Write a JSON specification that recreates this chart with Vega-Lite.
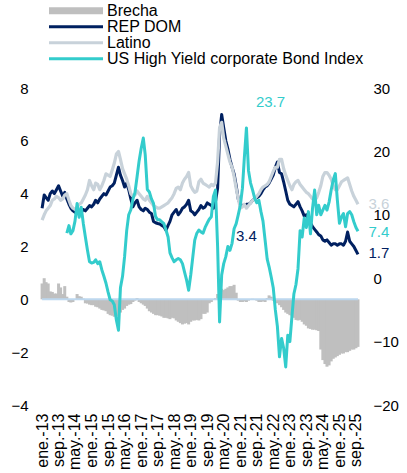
{
 "$schema": "https://vega.github.io/schema/vega-lite/v6.json",
 "width": 318,
 "height": 317,
 "autosize": {"type": "none"},
 "padding": {"left": 41, "top": 88, "right": 48, "bottom": 68},
 "background": "white",
 "config": {
  "font": "Liberation Sans",
  "view": {"stroke": null},
  "axis": {"grid": false, "ticks": false, "domain": false, "labelColor": "black", "labelFont": "Liberation Sans", "labelFontSize": 15}
 },
 "datasets": {
  "main": [
{"d":"2013-01","r":3.45,"l":3.0,"b":0.6},
{"d":"2013-02","r":3.95,"l":3.2,"b":0.8},
{"d":"2013-03","r":3.85,"l":3.35,"b":0.65},
{"d":"2013-04","r":3.75,"l":3.45,"b":0.6},
{"d":"2013-05","r":4.0,"l":3.55,"b":0.3},
{"d":"2013-06","r":4.1,"l":3.75,"b":0.28},
{"d":"2013-07","r":4.0,"l":3.8,"b":0.22},
{"d":"2013-08","r":4.15,"l":3.9,"b":0.22},
{"d":"2013-09","r":4.3,"l":3.85,"b":0.6},
{"d":"2013-10","r":4.1,"l":3.75,"b":0.45},
{"d":"2013-11","r":3.9,"l":3.8,"b":0.2},
{"d":"2013-12","r":4.05,"l":3.95,"b":0.5},
{"d":"2014-01","r":3.8,"l":4.0,"b":0.1,"h":7.1},
{"d":"2014-02","r":3.6,"l":3.75,"b":-0.1,"h":8.3},
{"d":"2014-03","r":3.45,"l":3.55,"b":-0.12,"h":7.0},
{"d":"2014-04","r":3.35,"l":3.45,"b":-0.1,"h":7.5},
{"d":"2014-05","r":3.3,"l":3.4,"b":0.0,"h":9.0},
{"d":"2014-06","r":3.3,"l":3.5,"b":0.2,"h":11.8},
{"d":"2014-07","r":3.35,"l":3.6,"b":0.12,"h":9.6},
{"d":"2014-08","r":3.3,"l":3.65,"b":0.1,"h":11.2},
{"d":"2014-09","r":3.4,"l":3.8,"b":0.03,"h":8.6},
{"d":"2014-10","r":3.35,"l":3.95,"b":-0.15,"h":6.5},
{"d":"2014-11","r":3.45,"l":4.15,"b":-0.16,"h":4.4},
{"d":"2014-12","r":3.55,"l":4.5,"b":-0.2,"h":2.6},
{"d":"2015-01","r":3.5,"l":4.3,"b":-0.22,"h":2.4},
{"d":"2015-02","r":3.6,"l":4.15,"b":-0.22,"h":2.5},
{"d":"2015-03","r":3.75,"l":4.4,"b":-0.28,"h":2.9},
{"d":"2015-04","r":3.65,"l":4.35,"b":-0.3,"h":2.3},
{"d":"2015-05","r":3.8,"l":4.15,"b":-0.35,"h":2.6},
{"d":"2015-06","r":3.9,"l":4.3,"b":-0.4,"h":1.3},
{"d":"2015-07","r":4.0,"l":4.5,"b":-0.42,"h":0.3},
{"d":"2015-08","r":3.95,"l":4.75,"b":-0.45,"h":-0.8},
{"d":"2015-09","r":4.1,"l":4.7,"b":-0.55,"h":-2.2},
{"d":"2015-10","r":4.25,"l":4.65,"b":-0.6,"h":-3.4},
{"d":"2015-11","r":4.3,"l":4.9,"b":-0.62,"h":-3.6},
{"d":"2015-12","r":4.4,"l":5.15,"b":-0.66,"h":-4.2},
{"d":"2016-01","r":4.7,"l":5.5,"b":-0.65,"h":-6.6},
{"d":"2016-02","r":5.0,"l":5.6,"b":-0.6,"h":-8.2},
{"d":"2016-03","r":4.7,"l":5.3,"b":-0.5,"h":-1.5},
{"d":"2016-04","r":4.5,"l":4.95,"b":-0.4,"h":0.3},
{"d":"2016-05","r":4.25,"l":4.75,"b":-0.35,"h":3.4},
{"d":"2016-06","r":4.4,"l":4.55,"b":-0.25,"h":7.5},
{"d":"2016-07","r":4.15,"l":4.3,"b":-0.2,"h":10.0},
{"d":"2016-08","r":3.8,"l":4.0,"b":-0.18,"h":10.8},
{"d":"2016-09","r":3.5,"l":3.9,"b":-0.1,"h":12.5},
{"d":"2016-10","r":3.65,"l":3.95,"b":-0.05,"h":13.5},
{"d":"2016-11","r":3.75,"l":4.1,"b":0.05,"h":16.0},
{"d":"2016-12","r":3.5,"l":4.0,"b":-0.1,"h":18.5},
{"d":"2017-01","r":3.4,"l":3.9,"b":-0.15,"h":20.5},
{"d":"2017-02","r":3.35,"l":3.8,"b":-0.2,"h":22.1},
{"d":"2017-03","r":3.45,"l":3.75,"b":-0.25,"h":19.5},
{"d":"2017-04","r":3.4,"l":3.9,"b":-0.35,"h":14.0},
{"d":"2017-05","r":3.3,"l":3.75,"b":-0.45,"h":13.6},
{"d":"2017-06","r":3.25,"l":3.65,"b":-0.5,"h":12.5},
{"d":"2017-07","r":2.95,"l":3.55,"b":-0.55,"h":11.8},
{"d":"2017-08","r":2.9,"l":3.5,"b":-0.6,"h":9.7},
{"d":"2017-09","r":2.87,"l":3.45,"b":-0.6,"h":9.2},
{"d":"2017-10","r":2.85,"l":3.45,"b":-0.62,"h":9.2},
{"d":"2017-11","r":2.8,"l":3.5,"b":-0.65,"h":8.9},
{"d":"2017-12","r":2.75,"l":3.55,"b":-0.7,"h":8.6},
{"d":"2018-01","r":2.62,"l":3.6,"b":-0.7,"h":7.6},
{"d":"2018-02","r":2.8,"l":3.65,"b":-0.72,"h":6.5},
{"d":"2018-03","r":2.95,"l":3.75,"b":-0.75,"h":4.0},
{"d":"2018-04","r":3.2,"l":3.85,"b":-0.7,"h":3.2},
{"d":"2018-05","r":3.3,"l":4.0,"b":-0.72,"h":2.6},
{"d":"2018-06","r":3.4,"l":4.2,"b":-0.8,"h":2.9},
{"d":"2018-07","r":3.2,"l":4.25,"b":-0.85,"h":3.1},
{"d":"2018-08","r":3.3,"l":4.15,"b":-0.9,"h":2.9},
{"d":"2018-09","r":3.45,"l":4.4,"b":-0.95,"h":2.3},
{"d":"2018-10","r":3.5,"l":4.55,"b":-0.92,"h":1.0},
{"d":"2018-11","r":3.6,"l":4.65,"b":-0.9,"h":-0.3},
{"d":"2018-12","r":3.75,"l":4.8,"b":-0.95,"h":-1.9},
{"d":"2019-01","r":3.35,"l":4.3,"b":-0.85,"h":0.5},
{"d":"2019-02","r":3.3,"l":4.15,"b":-0.8,"h":3.4},
{"d":"2019-03","r":3.2,"l":4.05,"b":-0.8,"h":6.0},
{"d":"2019-04","r":3.3,"l":4.1,"b":-0.78,"h":7.1},
{"d":"2019-05","r":3.4,"l":4.45,"b":-0.8,"h":7.6},
{"d":"2019-06","r":3.55,"l":4.55,"b":-0.75,"h":7.3},
{"d":"2019-07","r":3.45,"l":4.4,"b":-0.55,"h":7.1},
{"d":"2019-08","r":3.5,"l":4.35,"b":-0.55,"h":8.0},
{"d":"2019-09","r":3.65,"l":4.3,"b":-0.5,"h":8.7},
{"d":"2019-10","r":3.6,"l":4.25,"b":-0.15,"h":9.3},
{"d":"2019-11","r":3.55,"l":4.35,"b":-0.1,"h":9.7},
{"d":"2019-12","r":3.45,"l":4.3,"b":0.0,"h":12.9},
{"d":"2020-01","r":3.7,"l":4.4,"b":0.05,"h":13.9},
{"d":"2020-02","r":4.2,"l":5.2,"b":0.2,"h":5.0},
{"d":"2020-03","r":6.2,"l":6.5,"b":0.25,"h":-6.9},
{"d":"2020-04","r":7.0,"l":6.7,"b":0.4,"h":0.5},
{"d":"2020-05","r":6.5,"l":6.1,"b":0.35,"h":2.3},
{"d":"2020-06","r":6.0,"l":5.8,"b":0.4,"h":3.4},
{"d":"2020-07","r":5.7,"l":5.5,"b":0.45,"h":5.0},
{"d":"2020-08","r":5.3,"l":5.2,"b":0.5,"h":4.4},
{"d":"2020-09","r":5.0,"l":5.0,"b":0.5,"h":5.5},
{"d":"2020-10","r":4.75,"l":4.65,"b":0.55,"h":7.8},
{"d":"2020-11","r":4.3,"l":4.2,"b":0.25,"h":8.6},
{"d":"2020-12","r":3.8,"l":3.8,"b":-0.05,"h":10.0},
{"d":"2021-01","r":3.6,"l":3.45,"b":-0.1,"h":11.5},
{"d":"2021-02","r":3.55,"l":3.5,"b":-0.1,"h":14.2},
{"d":"2021-03","r":3.55,"l":3.6,"b":-0.08,"h":19.0},
{"d":"2021-04","r":3.6,"l":3.45,"b":-0.1,"h":23.7},
{"d":"2021-05","r":3.6,"l":3.55,"b":-0.05,"h":17.0},
{"d":"2021-06","r":3.65,"l":3.65,"b":0.0,"h":15.0},
{"d":"2021-07","r":3.75,"l":3.75,"b":0.02,"h":13.9},
{"d":"2021-08","r":3.8,"l":3.8,"b":0.0,"h":12.6},
{"d":"2021-09","r":3.85,"l":3.9,"b":-0.05,"h":11.9},
{"d":"2021-10","r":3.9,"l":4.0,"b":-0.1,"h":12.3},
{"d":"2021-11","r":4.0,"l":4.15,"b":-0.1,"h":10.5},
{"d":"2021-12","r":4.15,"l":4.25,"b":-0.08,"h":9.0},
{"d":"2022-01","r":4.25,"l":4.3,"b":-0.1,"h":6.0},
{"d":"2022-02","r":4.3,"l":4.35,"b":0.05,"h":3.0},
{"d":"2022-03","r":4.4,"l":4.45,"b":0.15,"h":1.8},
{"d":"2022-04","r":4.55,"l":4.65,"b":0.1,"h":0.2},
{"d":"2022-05","r":4.7,"l":4.85,"b":-0.05,"h":-1.5},
{"d":"2022-06","r":5.0,"l":5.0,"b":-0.1,"h":-5.0},
{"d":"2022-07","r":5.2,"l":5.0,"b":-0.15,"h":-7.6},
{"d":"2022-08","r":4.8,"l":5.3,"b":-0.22,"h":-12.4},
{"d":"2022-09","r":4.75,"l":5.3,"b":-0.3,"h":-9.5},
{"d":"2022-10","r":4.45,"l":4.95,"b":-0.4,"h":-11.0},
{"d":"2022-11","r":4.1,"l":4.7,"b":-0.5,"h":-14.0},
{"d":"2022-12","r":3.75,"l":4.5,"b":-0.55,"h":-9.0},
{"d":"2023-01","r":3.6,"l":4.3,"b":-0.6,"h":-10.0},
{"d":"2023-02","r":3.55,"l":4.15,"b":-0.65,"h":-6.0},
{"d":"2023-03","r":3.5,"l":4.35,"b":-0.7,"h":-2.5},
{"d":"2023-04","r":3.6,"l":4.45,"b":-0.78,"h":-1.0},
{"d":"2023-05","r":3.7,"l":4.5,"b":-0.8,"h":1.5},
{"d":"2023-06","r":3.5,"l":4.35,"b":-0.78,"h":7.5},
{"d":"2023-07","r":3.35,"l":4.25,"b":-0.85,"h":6.5},
{"d":"2023-08","r":3.15,"l":4.15,"b":-0.95,"h":9.5},
{"d":"2023-09","r":3.2,"l":4.05,"b":-1.0,"h":8.0},
{"d":"2023-10","r":3.05,"l":4.0,"b":-1.1,"h":10.5},
{"d":"2023-11","r":2.9,"l":3.9,"b":-1.12,"h":7.0},
{"d":"2023-12","r":2.75,"l":3.8,"b":-1.15,"h":11.0},
{"d":"2024-01","r":2.65,"l":3.75,"b":-1.15,"h":13.9},
{"d":"2024-02","r":2.55,"l":3.85,"b":-1.17,"h":10.0},
{"d":"2024-03","r":2.45,"l":4.05,"b":-1.2,"h":11.5},
{"d":"2024-04","r":2.4,"l":4.3,"b":-1.9,"h":10.0},
{"d":"2024-05","r":2.25,"l":4.65,"b":-2.3,"h":10.75},
{"d":"2024-06","r":2.2,"l":4.8,"b":-2.45,"h":11.5},
{"d":"2024-07","r":2.25,"l":4.8,"b":-2.55,"h":10.75},
{"d":"2024-08","r":2.15,"l":4.7,"b":-2.5,"h":12.0},
{"d":"2024-09","r":2.05,"l":4.55,"b":-2.35,"h":13.9},
{"d":"2024-10","r":2.1,"l":4.3,"b":-2.25,"h":15.5},
{"d":"2024-11","r":2.1,"l":4.15,"b":-2.2,"h":16.5},
{"d":"2024-12","r":2.05,"l":4.15,"b":-2.15,"h":12.3},
{"d":"2025-01","r":2.1,"l":4.3,"b":-2.1,"h":8.65},
{"d":"2025-02","r":2.1,"l":4.45,"b":-2.05,"h":9.7},
{"d":"2025-03","r":2.05,"l":4.5,"b":-2.05,"h":10.2},
{"d":"2025-04","r":2.2,"l":4.55,"b":-2.0,"h":8.1},
{"d":"2025-05","r":2.55,"l":4.6,"b":-2.0,"h":10.2},
{"d":"2025-06","r":2.2,"l":4.35,"b":-1.95,"h":10.5},
{"d":"2025-07","r":2.1,"l":4.1,"b":-1.9,"h":10.0},
{"d":"2025-08","r":2.0,"l":3.9,"b":-1.9,"h":8.9},
{"d":"2025-09","r":1.85,"l":3.75,"b":-1.85,"h":8.0},
{"d":"2025-10","r":1.7,"l":3.6,"b":-1.8,"h":7.4}
  ],
  "labs": [
   {"d":"2021-08-19","v":27.8,"t":"23.7","s":"US High Yield corporate Bond Index","a":"R"},
   {"d":"2026-03-05","v":7.3,"t":"7.4","s":"US High Yield corporate Bond Index","a":"R"},
   {"d":"2020-10-28","v":2.38,"t":"3.4","s":"REP DOM","a":"L"},
   {"d":"2026-03-05","v":3.6,"t":"3.6","s":"Latino","a":"L"},
   {"d":"2026-03-05","v":1.77,"t":"1.7","s":"REP DOM","a":"L"}
  ]
 },
 "encoding": {
  "x": {"field": "d", "type": "temporal",
        "scale": {"type": "utc", "padding": 0, "domain": [{"year": 2012, "month": 12, "date": 16, "utc": true}, {"year": 2025, "month": 10, "date": 16, "utc": true}]},
        "axis": {"title": null, "labelAngle": 270, "labelFontSize": 16, "labelPadding": 8, "labelOverlap": false, "labelFlush": false, "labelBound": false,
                 "values": [
                  {"year": 2013, "month": 1, "date": 1, "utc": true},
                  {"year": 2013, "month": 9, "date": 1, "utc": true},
                  {"year": 2014, "month": 5, "date": 1, "utc": true},
                  {"year": 2015, "month": 1, "date": 1, "utc": true},
                  {"year": 2015, "month": 9, "date": 1, "utc": true},
                  {"year": 2016, "month": 5, "date": 1, "utc": true},
                  {"year": 2017, "month": 1, "date": 1, "utc": true},
                  {"year": 2017, "month": 9, "date": 1, "utc": true},
                  {"year": 2018, "month": 5, "date": 1, "utc": true},
                  {"year": 2019, "month": 1, "date": 1, "utc": true},
                  {"year": 2019, "month": 9, "date": 1, "utc": true},
                  {"year": 2020, "month": 5, "date": 1, "utc": true},
                  {"year": 2021, "month": 1, "date": 1, "utc": true},
                  {"year": 2021, "month": 9, "date": 1, "utc": true},
                  {"year": 2022, "month": 5, "date": 1, "utc": true},
                  {"year": 2023, "month": 1, "date": 1, "utc": true},
                  {"year": 2023, "month": 9, "date": 1, "utc": true},
                  {"year": 2024, "month": 5, "date": 1, "utc": true},
                  {"year": 2025, "month": 1, "date": 1, "utc": true},
                  {"year": 2025, "month": 9, "date": 1, "utc": true}
                 ],
                 "labelExpr": "['ene.','feb.','mar.','abr.','may.','jun.','jul.','ago.','sep.','oct.','nov.','dic.'][utcmonth(datum.value)] + '-' + utcFormat(datum.value, '%y')"}}
 },
 "layer": [
  {
   "layer": [
    {
     "data": {"name": "main"},
     "mark": {"type": "bar", "width": 3},
     "encoding": {
      "y": {"field": "b", "type": "quantitative", "scale": {"domain": [-4, 8], "nice": false},
            "axis": {"title": null, "orient": "left", "values": [-4, -2, 0, 2, 4, 6, 8], "labelPadding": 13}},
      "color": {"datum": "Brecha", "type": "nominal",
                "scale": {"domain": ["Brecha", "REP DOM", "Latino", "US High Yield corporate Bond Index"], "range": ["#BFBFBF", "#002060", "#C8D2DA", "#33CCCC"]},
                "legend": {"orient": "none", "legendX": 0, "legendY": -85.3, "direction": "vertical", "title": null, "padding": 0,
                           "symbolType": "stroke", "symbolSize": 100, "symbolStrokeWidth": 3, "symbolOffset": 0,
                           "labelFont": "Liberation Sans", "labelFontSize": 16, "labelColor": "black", "labelOffset": 50, "labelLimit": 400, "rowPadding": -0.5,
                           "encode": {"symbols": {"update": {
                             "shape": {"signal": "datum.value === 'Brecha' ? 'M0,-0.7H10.8V0.7H0Z' : 'M0,0H10.8'"},
                             "fill": {"signal": "datum.value === 'Brecha' ? '#BFBFBF' : 'transparent'"},
                             "stroke": {"scale": "color", "field": "value"},
                             "strokeOpacity": {"signal": "datum.value === 'Brecha' ? 0 : 1"},
                             "opacity": {"value": 1}}}}}}
     }
    },
    {
     "data": {"name": "main"},
     "mark": {"type": "line", "color": "#BDD7EE", "strokeWidth": 2},
     "encoding": {"y": {"datum": 0, "type": "quantitative", "scale": {"domain": [-4, 8], "nice": false}}}
    },
    {
     "data": {"name": "main"},
     "mark": {"type": "line", "strokeWidth": 3, "strokeJoin": "round"},
     "encoding": {
      "y": {"field": "r", "type": "quantitative", "scale": {"domain": [-4, 8], "nice": false}},
      "color": {"datum": "REP DOM", "type": "nominal", "scale": {"domain": ["Brecha", "REP DOM", "Latino", "US High Yield corporate Bond Index"], "range": ["#BFBFBF", "#002060", "#C8D2DA", "#33CCCC"]}, "legend": null}
     }
    },
    {
     "data": {"name": "main"},
     "mark": {"type": "line", "strokeWidth": 3.2, "strokeJoin": "round"},
     "encoding": {
      "y": {"field": "l", "type": "quantitative", "scale": {"domain": [-4, 8], "nice": false}},
      "color": {"datum": "Latino", "type": "nominal", "scale": {"domain": ["Brecha", "REP DOM", "Latino", "US High Yield corporate Bond Index"], "range": ["#BFBFBF", "#002060", "#C8D2DA", "#33CCCC"]}, "legend": null}
     }
    },
    {
     "data": {"name": "labs"},
     "transform": [{"filter": "datum.a === 'L'"}],
     "mark": {"type": "text", "align": "left", "baseline": "middle", "fontSize": 15, "font": "Liberation Sans"},
     "encoding": {
      "y": {"field": "v", "type": "quantitative", "scale": {"domain": [-4, 8], "nice": false}},
      "text": {"field": "t"},
      "color": {"field": "s", "type": "nominal", "scale": {"domain": ["Brecha", "REP DOM", "Latino", "US High Yield corporate Bond Index"], "range": ["#BFBFBF", "#002060", "#C8D2DA", "#33CCCC"]}, "legend": null}
     }
    }
   ]
  },
  {
   "layer": [
    {
     "data": {"name": "main"},
     "mark": {"type": "line", "strokeWidth": 3, "strokeJoin": "round"},
     "encoding": {
      "y": {"field": "h", "type": "quantitative", "scale": {"domain": [-20, 30], "nice": false},
            "axis": {"title": null, "orient": "right", "values": [-20, -15, -10, -5, 0, 5, 10, 15, 20, 25, 30], "labelPadding": 14}},
      "color": {"datum": "US High Yield corporate Bond Index", "type": "nominal", "scale": {"domain": ["Brecha", "REP DOM", "Latino", "US High Yield corporate Bond Index"], "range": ["#BFBFBF", "#002060", "#C8D2DA", "#33CCCC"]}, "legend": null}
     }
    },
    {
     "data": {"name": "labs"},
     "transform": [{"filter": "datum.a === 'R'"}],
     "mark": {"type": "text", "align": "left", "baseline": "middle", "fontSize": 15, "font": "Liberation Sans"},
     "encoding": {
      "y": {"field": "v", "type": "quantitative", "scale": {"domain": [-20, 30], "nice": false}},
      "text": {"field": "t"},
      "color": {"field": "s", "type": "nominal", "scale": {"domain": ["Brecha", "REP DOM", "Latino", "US High Yield corporate Bond Index"], "range": ["#BFBFBF", "#002060", "#C8D2DA", "#33CCCC"]}, "legend": null}
     }
    }
   ]
  }
 ],
 "resolve": {"scale": {"y": "independent"}}
}
